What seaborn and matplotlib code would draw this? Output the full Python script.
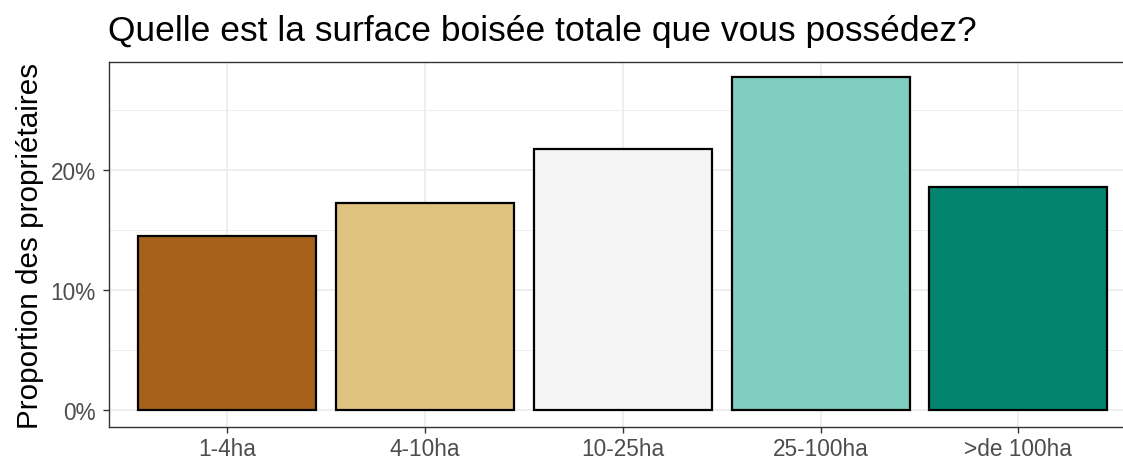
import matplotlib
matplotlib.use("Agg")
import matplotlib.pyplot as plt
import pandas as pd
import seaborn as sns
from matplotlib.ticker import FixedLocator, PercentFormatter

# ------------------------- Data ------------------------- #
categories = ["1-4ha", "4-10ha", "10-25ha", "25-100ha", ">de 100ha"]
shares = [14.5, 17.25, 21.75, 27.75, 18.6]
colors = ["#A6611A", "#DFC27D", "#F5F5F5", "#80CDC1", "#018571"]

title = "Quelle est la surface boisée totale que vous possédez?"
ylabel = "Proportion des propriétaires"

df = pd.DataFrame({"surface": categories, "share": shares})

# ------------------------- Plot ------------------------- #
sns.set_theme(style="white")
plt.rcParams["font.family"] = ["Liberation Sans", "DejaVu Sans"]

W, H = 1123, 464
fig = plt.figure(figsize=(W / 100, H / 100), dpi=100)
# panel is clipped on the right in the reference
left, right, top, bottom = 108.5, 1137, 63, 428
ax = fig.add_axes([left / W, 1 - bottom / H, (right - left) / W, (bottom - top) / H])

sns.barplot(data=df, x="surface", y="share", hue="surface", palette=colors,
            legend=False, width=0.9, edgecolor="black", linewidth=1.6,
            saturation=1, ax=ax, zorder=3)

ax.set_xlim(-0.6, 4.6)
ax.set_ylim(-1.4, 29.0)

grid = "#EBEBEB"
ax.yaxis.set_major_locator(FixedLocator([0, 10, 20]))
ax.yaxis.set_minor_locator(FixedLocator([5, 15, 25]))
ax.yaxis.set_major_formatter(PercentFormatter(decimals=0))
ax.grid(True, which="major", color=grid, linewidth=1.2, zorder=0)
ax.grid(True, which="minor", axis="y", color=grid, linewidth=0.6, zorder=0)
ax.set_axisbelow(True)

for s in ax.spines.values():
    s.set_color("#333333")
    s.set_linewidth(1.0)

ax.tick_params(axis="both", which="major", length=4.5, width=1.0, color="#333333",
               labelsize=16.3, labelcolor="#4D4D4D", bottom=True, left=True)
ax.tick_params(axis="x", which="major", pad=3)
ax.tick_params(axis="y", which="major", pad=4.5)
ax.tick_params(axis="both", which="minor", length=0)

ax.set_xlabel("")
ax.set_ylabel(ylabel, fontsize=21.3, color="black")
ax.yaxis.set_label_coords((44 - left) / (right - left), 0.5)
fig.text(left / W, 1 - 40.5 / H, title, fontsize=25.5, color="black", ha="left", va="baseline")

fig.savefig("out.png", dpi=100)
